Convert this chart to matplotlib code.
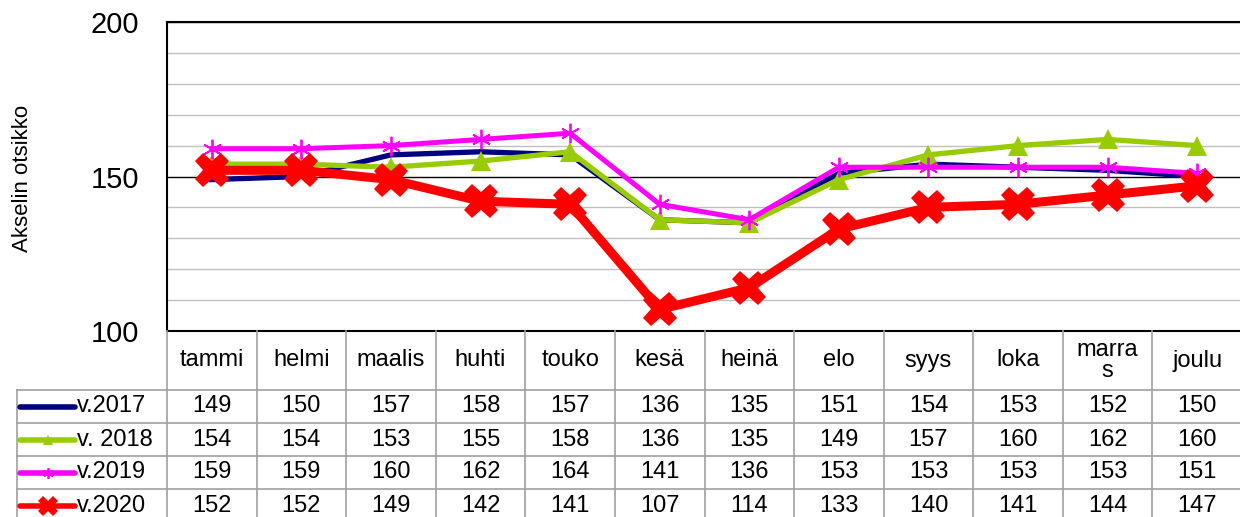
import numpy as np
import matplotlib.pyplot as plt
from matplotlib.ticker import MultipleLocator

plt.rcParams['font.family'] = ['Liberation Sans', 'DejaVu Sans']

kuukaudet = ['tammi', 'helmi', 'maalis', 'huhti', 'touko', 'kesä', 'heinä',
             'elo', 'syys', 'loka', 'marra\ns', 'joulu']
nimet = ['v.2017', 'v. 2018', 'v.2019', 'v.2020']
v2017 = [149, 150, 157, 158, 157, 136, 135, 151, 154, 153, 152, 150]
v2018 = [154, 154, 153, 155, 158, 136, 135, 149, 157, 160, 162, 160]
v2019 = [159, 159, 160, 162, 164, 141, 136, 153, 153, 153, 153, 151]
v2020 = [152, 152, 149, 142, 141, 107, 114, 133, 140, 141, 144, 147]
sarjat = [v2017, v2018, v2019, v2020]

# tyylit: vari, viivan leveys, merkki, merkin koko
tyylit = [
    dict(color='#000080', lw=3.8, marker=None, ms=0, mew=0),
    dict(color='#99CC00', lw=3.8, marker='^', ms=14, mew=0),
    dict(color='#FF00FF', lw=3.6, marker=(6, 2, 0), ms=14, mew=1.3),
    dict(color='#FF0000', lw=6.5, marker='X', ms=25, mew=0),
]

W, H = 1240, 517
fig = plt.figure(figsize=(W / 100, H / 100), dpi=100)

x0, x1 = 167, 1242
ytop, ybot = 22, 331
ax = fig.add_axes([x0 / W, 1 - ybot / H, (x1 - x0) / W, (ybot - ytop) / H])
x = np.arange(len(kuukaudet))
for s, st in zip(sarjat, tyylit):
    ax.plot(x, s, color=st['color'], lw=st['lw'], marker=st['marker'],
            ms=st['ms'], mew=st['mew'], mec=st['color'], solid_joinstyle='miter',
            clip_on=False)

ax.set_xlim(-0.5, 11.5)
ax.set_ylim(100, 200)
ax.yaxis.set_major_locator(MultipleLocator(50))
ax.yaxis.set_minor_locator(MultipleLocator(10))
ax.grid(which='minor', axis='y', color='#C0C0C0', lw=1.0)
ax.grid(which='major', axis='y', color='black', lw=1.0)
ax.set_axisbelow(True)
ax.set_xticks([])
ax.tick_params(axis='y', which='both', length=0, pad=20, labelsize=21)
for sp in ax.spines.values():
    sp.set_color('black')
    sp.set_linewidth(1.5)
ax.set_ylabel('Akselin otsikko', fontsize=16)
ax.yaxis.set_label_coords((33 - x0) / (x1 - x0), (ybot - 178) / (ybot - ytop))

# taulukko
colw = (x1 - x0) / 12
left = -0.5 - (x0 - 16) / colw
tab = fig.add_axes([16 / W, 0, (x1 - 16) / W, (H - ybot) / H])
tab.set_xlim(left, 11.5)
rowh = 33
head = 59 / rowh
tab.set_ylim((H - ybot) / rowh, 0)
tab.axis('off')

gray = '#A0A0A0'
bottom = head + 4
for k in range(13):
    tab.plot([k - 0.5, k - 0.5], [0, bottom], color=gray, lw=1.2, clip_on=False)
tab.plot([left + 0.01, left + 0.01], [head, bottom], color=gray, lw=1.2)
for r in range(4):
    tab.plot([left, 11.5], [head + r, head + r], color=gray, lw=1.2)

for k, m in enumerate(kuukaudet):
    if '\n' in m:
        tab.text(k, head / 2, m, ha='center', va='center', fontsize=17,
                 linespacing=0.95)
    else:
        tab.text(k, head / 2, m, ha='center', va='center', fontsize=17)

kx0 = (20 - x0) / colw - 0.5
kx1 = (75 - x0) / colw - 0.5
tx = (77 - x0) / colw - 0.5
for r, (nimi, s, st) in enumerate(zip(nimet, sarjat, tyylit)):
    yc = head + r + 0.5
    tab.plot([kx0, kx1], [yc, yc], color=st['color'], lw=4.0,
             solid_capstyle='round')
    if st['marker'] is not None:
        tab.plot([(kx0 + kx1) / 2], [yc], color=st['color'], marker=st['marker'],
                 ms=st['ms'] * 0.55, mew=st['mew'], mec=st['color'])
    tab.text(tx, yc, nimi, ha='left', va='center', fontsize=17)
    for k, v in enumerate(s):
        tab.text(k, yc, str(v), ha='center', va='center', fontsize=17)

fig.savefig('out.png', dpi=100)
